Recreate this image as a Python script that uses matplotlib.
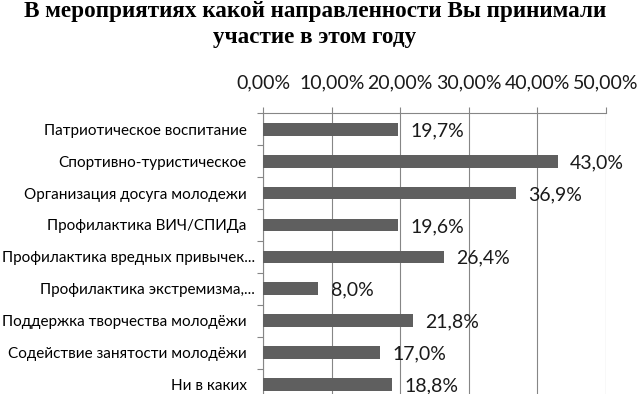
import matplotlib
matplotlib.use("Agg")
import matplotlib.pyplot as plt
from matplotlib import font_manager
from matplotlib.ft2font import FT2Font
from matplotlib.ticker import FuncFormatter, FixedLocator
import matplotlib.transforms as mtransforms

# ---- data ----
categories = [
    "Патриотическое воспитание",
    "Спортивно-туристическое",
    "Организация досуга молодежи",
    "Профилактика ВИЧ/СПИДа",
    "Профилактика вредных привычек...",
    "Профилактика экстремизма,...",
    "Поддержка творчества молодёжи",
    "Содействие занятости молодёжи",
    "Ни в каких",
]
values = [19.7, 43.0, 36.9, 19.6, 26.4, 8.0, 21.8, 17.0, 18.8]
value_labels = ["19,7%", "43,0%", "36,9%", "19,6%", "26,4%", "8,0%", "21,8%", "17,0%", "18,8%"]
x_ticks = [0, 10, 20, 30, 40, 50]
title_lines = ["В мероприятиях какой направленности Вы принимали", "участие в этом году"]

def has_cyr(fam):
    try:
        p = font_manager.findfont(font_manager.FontProperties(family=fam), fallback_to_default=False)
        return ord("П") in FT2Font(p).get_charmap()
    except Exception:
        return False

sans = "DejaVu Sans"
for fam in ["Lato", "Open Sans", "Noto Sans"]:
    if has_cyr(fam):
        sans = fam
        break
plt.rcParams["font.family"] = [sans, "DejaVu Sans"]

fig = plt.figure(figsize=(6.4, 3.94), dpi=100)
ax = fig.add_axes([263.3 / 640, 1 - 400.5 / 394, (605.7 - 263.3) / 640, (400.5 - 113.3) / 394])

n = len(categories)
ypos = list(range(n))
ax.barh(ypos, values, height=0.4, color="#5f5f5f", zorder=3)
ax.set_ylim(n - 0.5, -0.5)
ax.set_xlim(0, 50)

for y, v, lab in zip(ypos, values, value_labels):
    ax.annotate(lab, (v, y), xytext=(9, -1), textcoords="offset points",
                ha="left", va="center", fontsize=14, color="#1a1a1a", zorder=4)

ax.xaxis.tick_top()
ax.xaxis.set_major_locator(FixedLocator(x_ticks))
ax.xaxis.set_major_formatter(FuncFormatter(lambda v, p: f"{v:.2f}".replace(".", ",") + "%"))
ax.tick_params(axis="x", length=4, width=0.8, color="#868686", pad=12, labelsize=14, labelcolor="#1a1a1a")
ax.grid(axis="x", color="#868686", linewidth=0.8, zorder=0)

ax.set_yticks(ypos)
ax.set_yticklabels(categories)
ax.yaxis.set_minor_locator(FixedLocator([i + 0.5 for i in range(-1, n)]))
ax.tick_params(axis="y", which="major", length=0, pad=12, labelsize=11, labelcolor="#000000")
ax.tick_params(axis="y", which="minor", length=4, width=0.8, color="#868686")

for lab in ax.get_yticklabels():
    if lab.get_text().endswith("..."):
        lab.set_transform(lab.get_transform() + mtransforms.ScaledTranslation(8 / 100, 0, fig.dpi_scale_trans))

for s in ["right", "bottom"]:
    ax.spines[s].set_visible(False)
for s in ["left", "top"]:
    ax.spines[s].set_color("#868686")
    ax.spines[s].set_linewidth(0.8)

for line, ybase in zip(title_lines, [17, 43]):
    fig.text(315 / 640, 1 - ybase / 394, line, ha="center", va="baseline", fontsize=16.7, fontweight="bold",
             family=["Liberation Serif", "DejaVu Serif"])

fig.savefig("out.png", dpi=100)
